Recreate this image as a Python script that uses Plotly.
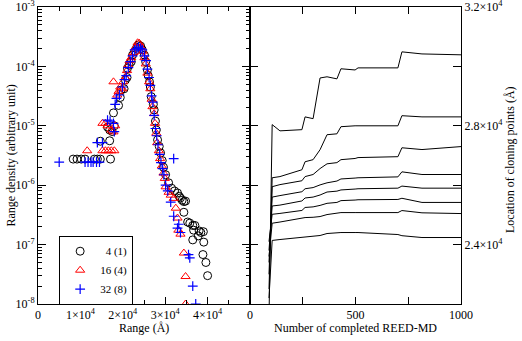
import plotly.graph_objects as go

# ---------------- Left panel: range density ----------------
x_4 = [8300, 9200, 10200, 11100, 13300, 14000, 14700, 17100,
       14700, 16900, 16900, 16400, 17500, 18000, 17800, 19000, 19400, 19600,
       20300, 20600, 21000, 21100, 21500, 22000, 22300, 22800, 23300, 23700,
       24200, 24600, 25100, 25400, 25800, 26000, 26300, 26500, 26700, 27200,
       27400, 27700, 27900, 28200, 28600, 28900, 29300, 29600, 30100, 30800,
       31500, 32200, 32900, 33300, 33600, 34000, 34400, 34800, 34400, 35300,
       35800, 36500, 37000, 36700, 38000, 38400, 39000, 36500, 37800, 39100,
       38900, 39600, 40000]
y_4 = [2.75e-6, 2.75e-6, 2.75e-6, 2.75e-6, 2.75e-6, 2.75e-6, 2.75e-6, 2.75e-6,
       5.5e-6, 5.6e-6, 8.5e-6, 9.5e-6, 8.0e-6, 1.0e-5, 1.65e-5, 2.2e-5, 3.0e-5, 4.0e-5,
       4.2e-5, 5.9e-5, 6.5e-5, 9.3e-5, 1.05e-4, 1.2e-4, 1.55e-4, 1.8e-4, 2.1e-4, 2.3e-4,
       2.2e-4, 1.9e-4, 1.55e-4, 1.2e-4, 8.7e-5, 7.0e-5, 5.5e-5, 4.5e-5, 3.1e-5, 2.3e-5,
       1.85e-5, 1.2e-5, 8.5e-6, 5.8e-6, 4.5e-6, 3.5e-6, 2.6e-6, 2.0e-6, 1.5e-6, 1.1e-6,
       8.9e-7, 8.0e-7, 7.4e-7, 6.5e-7, 6.1e-7, 5.6e-7, 5.3e-7, 5.4e-7, 3.5e-7, 2.4e-7,
       2.3e-7, 2.1e-7, 2.1e-7, 1.75e-7, 1.7e-7, 1.6e-7, 1.65e-7, 1.2e-7, 1.4e-7, 1.1e-7,
       6.8e-8, 5.0e-8, 3.0e-8]

x_16 = [11600, 15200, 15900, 16600, 17300, 18000,
        15200, 15900, 16400, 17300, 17800, 18200, 17800, 18700, 19000, 19400,
        19900, 20100, 20600, 21000, 21300, 21600, 22000, 22500, 23000, 23500,
        23900, 24300, 24700, 25100, 25400, 25800, 26200, 26500, 26800, 27000,
        27400, 27600, 27900, 28100, 28500, 28800, 29200, 29600, 29900, 30100,
        30800, 31300, 32000, 32500, 32900, 33100, 33600, 34400, 34800, 34800]
y_16 = [3.8e-6, 3.8e-6, 3.8e-6, 3.8e-6, 3.8e-6, 3.8e-6,
        1.1e-5, 1.1e-5, 1.0e-5, 8.5e-6, 7.9e-6, 1.0e-5, 5.5e-5, 3.3e-5, 3.8e-5, 4.5e-5,
        4.2e-5, 5.5e-5, 6.5e-5, 8.5e-5, 1.05e-4, 1.25e-4, 1.4e-4, 1.7e-4, 2.1e-4, 2.5e-4,
        2.45e-4, 2.1e-4, 1.8e-4, 1.4e-4, 1.1e-4, 7.7e-5, 5.5e-5, 4.2e-5, 2.8e-5, 2.1e-5,
        1.6e-5, 1.1e-5, 7.5e-6, 5.2e-6, 3.8e-6, 2.8e-6, 2.1e-6, 1.6e-6, 1.3e-6, 9.4e-7,
        7.6e-7, 6.8e-7, 6.0e-7, 4.1e-7, 2.8e-7, 1.75e-7, 1.5e-7, 7.2e-8, 2.9e-8, 1.0e-8]

x_32 = [5000, 11100, 11800, 12500, 13000, 13800, 14500, 14000, 15200, 16400,
        17800, 17000, 18000, 18200, 18500, 19200, 19900, 20400, 20800, 21300,
        21800, 22300, 22800, 23300, 23700, 24200, 24600, 25100, 25500, 25800,
        26200, 26500, 26800, 27100, 27400, 27700, 28000, 28300, 28700, 29000,
        29400, 29700, 30100, 30600, 31300, 32000, 32900, 33600, 33200, 35500,
        35800, 36500, 37200, 32000]
y_32 = [2.45e-6, 2.45e-6, 2.45e-6, 2.45e-6, 2.45e-6, 2.45e-6, 2.45e-6, 5.2e-6, 5.2e-6, 1.25e-5,
        1.1e-5, 1.2e-5, 8.0e-6, 2.3e-5, 2.9e-5, 3.3e-5, 4.5e-5, 6.0e-5, 7.0e-5, 9.5e-5,
        1.2e-4, 1.5e-4, 1.9e-4, 2.0e-4, 2.1e-4, 2.0e-4, 1.9e-4, 1.5e-4, 1.25e-4, 9.0e-5,
        6.5e-5, 4.8e-5, 3.2e-5, 2.5e-5, 1.5e-5, 9.0e-6, 6.8e-6, 4.8e-6, 3.3e-6, 2.4e-6,
        1.9e-6, 1.5e-6, 1.0e-6, 8.0e-7, 5.2e-7, 3.0e-7, 1.9e-7, 1.6e-7, 2.2e-7, 6.8e-8,
        6.0e-8, 2.0e-8, 1.0e-8, 2.8e-6]

left_xtick_vals = [0, 10000, 20000, 30000, 40000]
left_xtick_text = ["0", "1×10<sup>4</sup>", "2×10<sup>4</sup>", "3×10<sup>4</sup>", "4×10<sup>4</sup>"]
left_ytick_vals = [1e-8, 1e-7, 1e-6, 1e-5, 1e-4, 1e-3]
left_ytick_text = ["10<sup>-8</sup>", "10<sup>-7</sup>", "10<sup>-6</sup>",
                   "10<sup>-5</sup>", "10<sup>-4</sup>", "10<sup>-3</sup>"]

# ---------------- Right panel: cloning point locations ----------------
n_steps = [90, 105, 142, 246, 261, 299, 332, 365, 412, 431, 498, 512, 701, 720, 815, 1000]
loc_1 = [21500, 28040, 27830, 27870, 28300, 28240, 29610, 29650, 29580, 29920, 29880, 29950, 29950, 30490, 30420, 30390]
loc_2 = [22500, 26250, 26290, 26520, 26790, 26860, 27195, 27700, 27730, 27970, 28000, 28000, 28000, 28340, 28300, 28300]
loc_3 = [23000, 25950, 26020, 26150, 26290, 26360, 26560, 26720, 26760, 26860, 26900, 26930, 26960, 27260, 27200, 27300]
loc_4 = [23400, 25600, 25650, 25780, 25880, 25920, 26010, 26080, 26140, 26210, 26240, 26250, 26280, 26450, 26360, 26360]
loc_5 = [23800, 25300, 25330, 25470, 25570, 25600, 25670, 25770, 25800, 25840, 25870, 25880, 25900, 25970, 25900, 25900]
loc_6 = [24100, 25020, 25050, 25150, 25250, 25270, 25320, 25390, 25420, 25480, 25500, 25510, 25520, 25560, 25420, 25420]
loc_7 = [23600, 24720, 24760, 24870, 24910, 24920, 24944, 25011, 25045, 25078, 25078, 25078, 25078, 25146, 25070, 25045]
loc_8 = [22200, 24140, 24171, 24238, 24272, 24290, 24306, 24373, 24406, 24406, 24406, 24406, 24339, 24300, 24238, 24238]
locations = [loc_1, loc_2, loc_3, loc_4, loc_5, loc_6, loc_7, loc_8]

right_xtick_vals = [0, 250, 500, 750, 1000]
right_xtick_text = ["0", "", "500", "", "1000"]
right_ytick_vals = [22000, 24000, 26000, 28000, 30000, 32000]
right_ytick_text = ["", "2.4×10<sup>4</sup>", "", "2.8×10<sup>4</sup>", "", "3.2×10<sup>4</sup>"]

FONT = "Times New Roman, Liberation Serif, serif"

fig = go.Figure()
fig.add_trace(go.Scatter(x=x_4, y=y_4, mode="markers", name="\u00a0\u00a04 (1)",
                         marker=dict(symbol="circle-open", color="black", size=8, line=dict(width=1)),
                         xaxis="x", yaxis="y", cliponaxis=True))
fig.add_trace(go.Scatter(x=x_16, y=y_16, mode="markers", name="16 (4)",
                         marker=dict(symbol="triangle-up-open", color="red", size=8, line=dict(width=1)),
                         xaxis="x", yaxis="y", cliponaxis=True))
fig.add_trace(go.Scatter(x=x_32, y=y_32, mode="markers", name="32 (8)",
                         marker=dict(symbol="cross-thin-open", color="blue", size=7, line=dict(width=1.2, color="blue")),
                         xaxis="x", yaxis="y", cliponaxis=True))
for loc in locations:
    fig.add_trace(go.Scatter(x=n_steps, y=loc, mode="lines", showlegend=False,
                             line=dict(color="black", width=1), xaxis="x2", yaxis="y2"))

axis_common = dict(showline=True, linecolor="black", linewidth=1, mirror="ticks", showgrid=False,
                   zeroline=False, ticks="inside", tickcolor="black", tickwidth=1, automargin=False,
                   ticklabeloverflow="allow",
                   tickfont=dict(family=FONT, size=12, color="black"))

split = 212 / 423
fig.update_layout(
    width=522, height=341,
    margin=dict(l=38, r=61, t=7, b=37),
    paper_bgcolor="white", plot_bgcolor="white",
    font=dict(family=FONT, size=12, color="black"),
    showlegend=True,
    legend=dict(x=0.05, y=0.23, xanchor="left", yanchor="top",
                bordercolor="black", borderwidth=1, bgcolor="white",
                font=dict(family=FONT, size=11, color="black"),
                tracegroupgap=0, itemwidth=30),
    xaxis=dict(domain=[0, split], range=[0, 50000], anchor="y",
               tickmode="array", tickvals=left_xtick_vals, ticktext=left_xtick_text, ticklen=7,
               minor=dict(tickmode="array", tickvals=[5000, 15000, 25000, 35000, 45000],
                          ticks="inside", ticklen=4, tickcolor="black"),
               **axis_common),
    yaxis=dict(type="log", range=[-8, -3], anchor="x",
               tickmode="array", tickvals=left_ytick_vals, ticktext=left_ytick_text, ticklen=8,
               minor=dict(tickmode="array",
                          tickvals=[m * 10.0 ** e for e in range(-8, -3) for m in range(2, 10)],
                          ticks="inside", ticklen=4, tickcolor="black"),
               **axis_common),
    xaxis2=dict(domain=[split, 1], range=[0, 1000], anchor="y2",
                tickmode="array", tickvals=right_xtick_vals, ticktext=right_xtick_text, ticklen=7,
                **axis_common),
    yaxis2=dict(range=[22000, 32000], anchor="x2", side="right",
                tickmode="array", tickvals=right_ytick_vals, ticktext=right_ytick_text, ticklen=8,
                **axis_common),
    annotations=[
        dict(text="Range (Å)", xref="paper", yref="paper", x=split / 2, y=-0.081,
             xanchor="center", yanchor="middle", showarrow=False, font=dict(family=FONT, size=12)),
        dict(text="Number of completed REED-MD", xref="paper", yref="paper", x=(1 + split) / 2, y=-0.081,
             xanchor="center", yanchor="middle", showarrow=False, font=dict(family=FONT, size=12)),
        dict(text="Range density (arbitrary unit)", xref="paper", yref="paper", x=-0.066, y=0.5,
             xanchor="center", yanchor="middle", textangle=-90, showarrow=False, font=dict(family=FONT, size=12)),
        dict(text="Location of cloning points (Å)", xref="paper", yref="paper", x=1.116, y=0.485,
             xanchor="center", yanchor="middle", textangle=-90, showarrow=False, font=dict(family=FONT, size=12)),
    ],
)

fig.write_html("out.html", config={"displayModeBar": False},
               post_script="document.body.style.margin='0';document.body.style.overflow='hidden';")
